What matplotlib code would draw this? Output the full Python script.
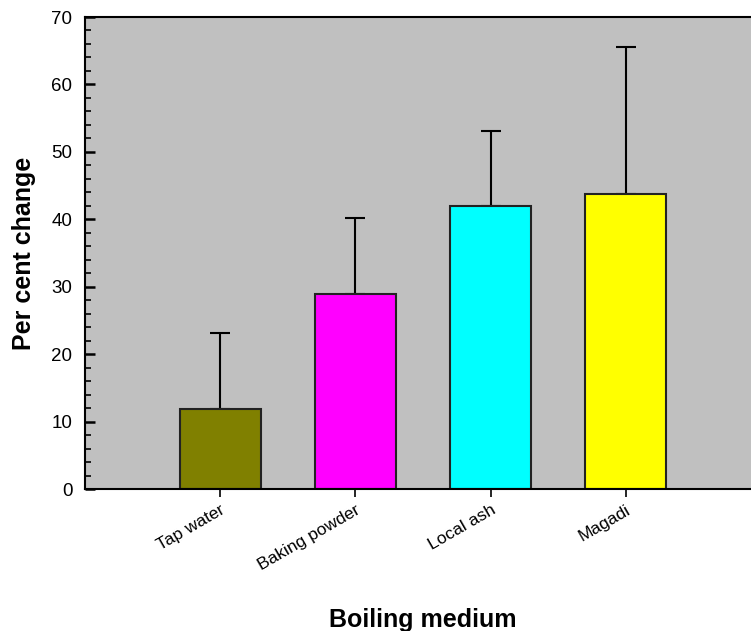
import matplotlib
matplotlib.use("Agg")
import matplotlib.pyplot as plt
from matplotlib.ticker import MultipleLocator

categories = ["Tap water", "Baking powder", "Local ash", "Magadi"]
values = [11.8, 28.9, 41.9, 43.8]
errors = [11.3, 11.3, 11.2, 21.8]
colors = ["#808000", "#FF00FF", "#00FFFF", "#FFFF00"]

plt.rcParams['font.family'] = ['Liberation Sans', 'DejaVu Sans']

fig = plt.figure(figsize=(7.51, 6.31), dpi=100)
ax = fig.add_axes([85/751, 1-489/631, 676/751, 472/631])
ax.set_facecolor("#C0C0C0")

x = list(range(1, len(categories) + 1))
ax.bar(x, values, width=0.6, color=colors, edgecolor="#222222", linewidth=1.5, zorder=2)
ax.errorbar(x, values, yerr=[[0]*len(values), errors], fmt="none", ecolor="black",
            elinewidth=1.5, capsize=7.5, capthick=1.5, zorder=1)

ax.set_xlim(0, 5)
ax.set_ylim(0, 70)
ax.yaxis.set_major_locator(MultipleLocator(10))
ax.yaxis.set_minor_locator(MultipleLocator(2))
ax.tick_params(axis='y', which='major', direction='in', length=7, width=1.8, labelsize=13.5, pad=9)
ax.tick_params(axis='y', which='minor', direction='in', length=4, width=1.2)
ax.tick_params(axis='x', which='major', direction='out', length=6, width=1.2, labelsize=12.5)
ax.set_xticks(x)
ax.set_xticklabels(categories, rotation=30, ha='right', rotation_mode='anchor')
for s in ax.spines.values():
    s.set_linewidth(1.5)
ax.spines['right'].set_visible(False)

ax.set_ylabel("Per cent change", fontsize=18, fontweight='bold')
ax.yaxis.set_label_coords(-0.072, 0.5)
ax.set_xlabel("Boiling medium", fontsize=18, fontweight='bold')
ax.xaxis.set_label_coords(0.5, -0.252)

fig.savefig("out.png", dpi=100)
